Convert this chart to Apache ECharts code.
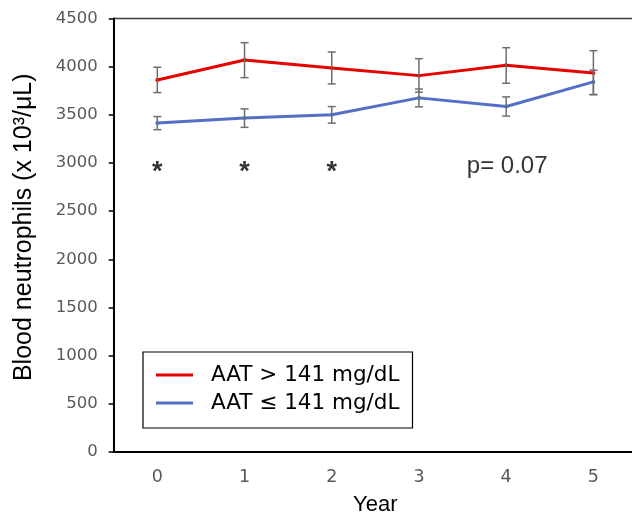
<!DOCTYPE html>
<html><head><meta charset="utf-8">
<script src="https://cdn.jsdelivr.net/npm/echarts@6/dist/echarts.min.js"></script>
<style>html,body{margin:0;padding:0;background:#fff}#c{width:632px;height:516px}</style>
</head><body><div id="c"></div>
<script>
const years = ['0','1','2','3','4','5'];
const yTicks = [0,500,1000,1500,2000,2500,3000,3500,4000,4500];
const redName = 'AAT > 141 mg/dL';
const blueName = 'AAT \u2264 141 mg/dL';
const redMean = [3862, 4069, 3987, 3907, 4014, 3935];
const redLow  = [3731, 3886, 3821, 3735, 3828, 3710];
const redHigh = [3994, 4249, 4152, 4083, 4197, 4166];
const blueMean = [3414, 3466, 3500, 3676, 3586, 3842];
const blueLow  = [3346, 3370, 3414, 3583, 3487, 3710];
const blueHigh = [3482, 3562, 3586, 3768, 3686, 3963];
const sigYears = ['0','1','2'];
const sigLevel = 2900;
const pText = 'p= 0.07';
const pYear = '4';
const pLevel = 2970;

const chart = echarts.init(document.getElementById('c'), null, {renderer:'canvas'});
function errSeries(low, high){
  return {
    type:'custom', z:5, silent:true,
    data: years.map((y,i)=>[i, low[i], high[i]]),
    renderItem(params, api){
      const lo = api.coord([api.value(0), api.value(1)]);
      const hi = api.coord([api.value(0), api.value(2)]);
      const x = lo[0], w = 4;
      const st = {stroke:'#6e6e6e', lineWidth:1.5};
      return {type:'group', children:[
        {type:'line', shape:{x1:x,y1:lo[1],x2:x,y2:hi[1]}, style:st},
        {type:'line', shape:{x1:x-w,y1:lo[1],x2:x+w,y2:lo[1]}, style:st},
        {type:'line', shape:{x1:x-w,y1:hi[1],x2:x+w,y2:hi[1]}, style:st}
      ]};
    }
  };
}
const option = {
  animation:false,
  grid:{left:113.7, right:-5, top:18.5, bottom:64, show:true, borderColor:'#404040', borderWidth:1.5,
        outerBoundsMode:'none', containLabel:false},
  legend:{
    left:143, top:352, orient:'vertical',
    borderColor:'#000', borderWidth:1.2, padding:[12,13,14,13],
    itemWidth:37, itemHeight:3, itemGap:6, icon:'rect',
    textStyle:{fontSize:21.5, color:'#000', fontFamily:'DejaVu Sans', padding:[0,0,0,13]},
    data:[redName, blueName]
  },
  xAxis:{
    type:'category', data:years, boundaryGap:true,
    name:'Year', nameLocation:'middle', nameGap:42,
    nameTextStyle:{fontSize:22, color:'#000', fontFamily:'Liberation Sans'},
    axisLine:{lineStyle:{color:'#000', width:2}},
    axisTick:{alignWithLabel:true, length:5, lineStyle:{color:'#000', width:1.5}},
    axisLabel:{fontSize:17.5, color:'#595959', margin:16, fontFamily:'DejaVu Sans'},
    splitLine:{show:false}
  },
  yAxis:{
    type:'value', min:0, max:4500, interval:500,
    name:'Blood neutrophils (x 10\u00B3/\u03BCL)', nameLocation:'middle', nameGap:77,
    nameTextStyle:{fontSize:25, color:'#000', fontFamily:'Liberation Sans', padding:[0,0,0,16]},
    axisLine:{show:true, lineStyle:{color:'#000', width:2}},
    axisTick:{show:true, length:5, lineStyle:{color:'#000', width:1.5}},
    axisLabel:{fontSize:16.5, color:'#595959', margin:16, fontFamily:'DejaVu Sans',
      formatter:v=>yTicks.includes(v)?String(v):''},
    splitLine:{show:false}
  },
  series:[
    {name:redName, type:'line', data:redMean, color:'#e60000', lineStyle:{width:3},
     symbol:'circle', symbolSize:4, z:3},
    {name:blueName, type:'line', data:blueMean, color:'#5470c6', lineStyle:{width:3},
     symbol:'circle', symbolSize:4, z:3},
    errSeries(redLow, redHigh),
    errSeries(blueLow, blueHigh),
    {type:'scatter', symbolSize:0, silent:true, data:sigYears.map(y=>[y, sigLevel]),
     label:{show:true, position:'inside', formatter:'*', fontSize:27, fontWeight:'bold', color:'#000', fontFamily:'Liberation Sans'}},
    {type:'scatter', symbolSize:0, silent:true, data:[[pYear, pLevel]],
     label:{show:true, position:'inside', formatter:pText, offset:[1,0], fontSize:24, color:'#000', fontFamily:'Liberation Sans'}}
  ]
};
chart.setOption(option);
</script></body></html>
